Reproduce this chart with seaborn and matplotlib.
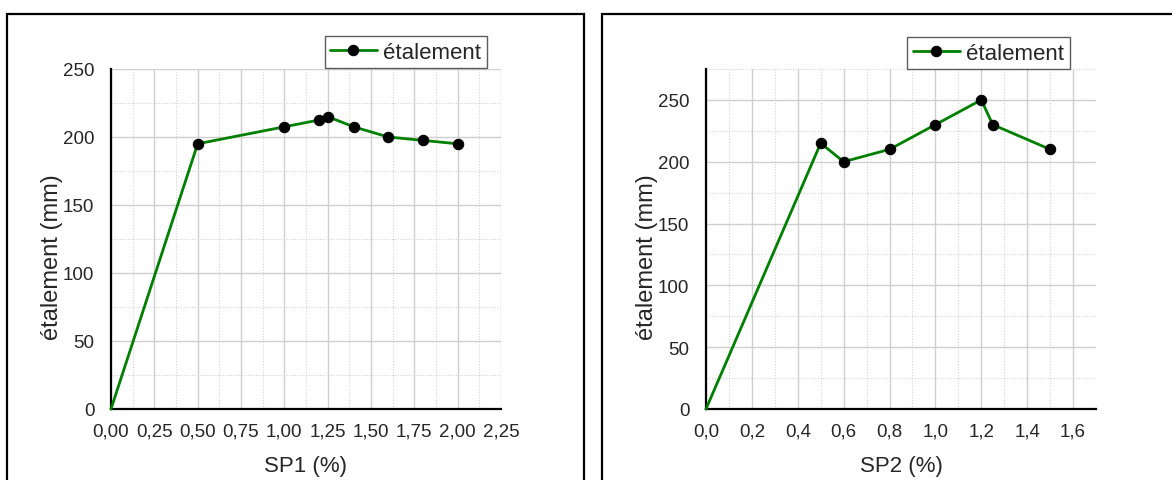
import matplotlib
matplotlib.use("Agg")
import matplotlib.pyplot as plt
from matplotlib.patches import Rectangle
from matplotlib.ticker import MultipleLocator, FuncFormatter
import seaborn as sns
import pandas as pd

# ---- data ----
sp1_x = [0.0, 0.5, 1.0, 1.2, 1.25, 1.4, 1.6, 1.8, 2.0]
sp1_y = [0, 195, 207.5, 212.5, 215, 207.5, 200, 197.5, 195]
sp2_x = [0.0, 0.5, 0.6, 0.8, 1.0, 1.2, 1.25, 1.5]
sp2_y = [0, 215, 200, 210, 230, 250, 230, 210]
series_label = "étalement"
y_label = "étalement (mm)"
x_labels = ["SP1 (%)", "SP2 (%)"]

sns.set_style("white")
regular = ["Liberation Sans", "DejaVu Sans"]
plt.rcParams["font.family"] = regular

W, H = 1172, 481
fig = plt.figure(figsize=(W / 100, H / 100), dpi=100)

def fx(px):
    return px / W

def fy(py):
    return 1 - py / H

# panel frames
for x0, x1 in [(7, 584), (602, 1200)]:
    fig.add_artist(Rectangle((fx(x0), -0.1), fx(x1) - fx(x0), fy(15) + 0.1,
                             transform=fig.transFigure, fill=False,
                             edgecolor="black", linewidth=1.6, clip_on=False))

bottom, top = fy(410), fy(70)
ax1 = fig.add_axes([fx(111), bottom, fx(501) - fx(111), top - bottom])
ax2 = fig.add_axes([fx(706), bottom, fx(1096) - fx(706), top - bottom])

configs = [
    (ax1, sp1_x, sp1_y, x_labels[0], (0, 2.25), (0, 250), 0.25, 0.125, 2, (0.964, 1.097)),
    (ax2, sp2_x, sp2_y, x_labels[1], (0, 1.70), (0, 275), 0.2, 0.1, 1, (0.933, 1.094)),
]

for ax, xs, ys, xl, xlim, ylim, maj, mnr, dec, leg_anchor in configs:
    df = pd.DataFrame({"x": xs, "y": ys})
    sns.lineplot(data=df, x="x", y="y", ax=ax, color="#008000", linewidth=2.0,
                 marker="o", markersize=7.5, markerfacecolor="black",
                 markeredgecolor="black", label=series_label, zorder=3,
                 markevery=list(range(1, len(xs))), clip_on=False)
    ax.set_xlim(*xlim)
    ax.set_ylim(*ylim)
    ax.xaxis.set_major_locator(MultipleLocator(maj))
    ax.xaxis.set_minor_locator(MultipleLocator(mnr))
    ax.yaxis.set_major_locator(MultipleLocator(50))
    ax.yaxis.set_minor_locator(MultipleLocator(25))
    ax.xaxis.set_major_formatter(FuncFormatter(
        lambda v, p, d=dec: f"{v:.{d}f}".replace(".", ",")))
    ax.grid(which="major", color="#cfcfcf", linewidth=1.0, linestyle="-")
    ax.grid(which="minor", color="#d2d2d2", linewidth=0.8, linestyle=(0, (1, 1.5)))
    ax.set_axisbelow(True)
    for s in ["top", "right"]:
        ax.spines[s].set_visible(False)
    for s in ["left", "bottom"]:
        ax.spines[s].set_linewidth(1.6)
        ax.spines[s].set_color("black")
    ax.tick_params(which="major", direction="inout", length=8, width=1.6,
                   labelsize=13.5, color="black")
    ax.tick_params(axis="y", which="major", pad=8)
    ax.tick_params(axis="x", which="major", pad=6)
    ax.tick_params(which="minor", direction="inout", length=4, width=1.2,
                   color="black")
    ax.set_xlabel(xl, fontsize=16)
    ax.xaxis.set_label_coords(0.5, -0.135)
    ax.set_ylabel(y_label, fontsize=17)
    ax.yaxis.set_label_coords(-0.122, 0.45)
    leg = ax.legend(loc="upper right", bbox_to_anchor=leg_anchor,
                    fontsize=16, frameon=True, fancybox=False,
                    handlelength=2.1, handletextpad=0.3, borderpad=0.25,
                    borderaxespad=0.0)
    leg.get_frame().set_edgecolor("#333333")
    leg.get_frame().set_linewidth(1.0)

fig.savefig("out.png", dpi=100)
